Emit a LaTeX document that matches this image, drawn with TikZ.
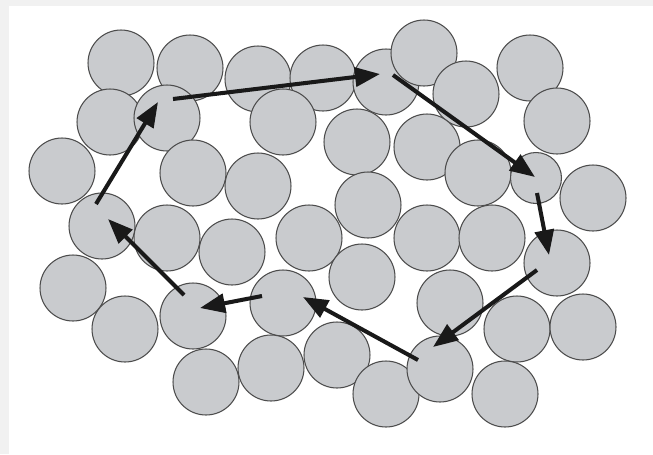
\documentclass[tikz,border=0pt]{standalone}
\usepackage{tikz}
\usetikzlibrary{arrows.meta, positioning}
\definecolor{graingray}{HTML}{C9CBCE}
\definecolor{framegray}{HTML}{F1F1F1}
\tikzset{
	grainnode/.style={
			circle,
			draw=black!70,
			line width=0.6pt,
			fill=graingray,
			minimum size=1.32cm,
			inner sep=0pt
		},
	smallgrainnode/.style={
			grainnode,
			minimum size=1.02cm
		},
	hopline/.style={
			-{Triangle[length=0.5cm,width=0.38cm]},
			line width=2.3pt,
			draw=black!90
		}
}

\begin{document}
\begin{tikzpicture}[x=0.02cm, y=-0.02cm]
				\useasboundingbox (0,0) rectangle (653,454);
				\fill[white] (0,0) rectangle (653,454);
				\fill[framegray] (0,0) rectangle (653,6);
				\fill[framegray] (0,0) rectangle (9,454);

				% grains
				\node[grainnode] at (121,63) (g1) {};
				\node[grainnode] at (190,68) (g2) {};
				\node[grainnode] at (258,79) (g3) {};
				\node[grainnode] at (323,78) (g4) {};
				\node[grainnode] at (386,82) (g5) {};
				\node[grainnode] at (424,53) (g6) {};
				\node[grainnode] at (466,94) (g7) {};
				\node[grainnode] at (530,68) (g8) {};
				\node[grainnode] at (557,121) (g9) {};
				\node[grainnode] at (110,122) (g10) {};
				\node[grainnode] at (283,122) (g12) {};
				\node[grainnode] at (167,118) (g11) {};
				\node[grainnode] at (357,142) (g13) {};
				\node[grainnode] at (427,147) (g14) {};
				\node[grainnode] at (478,173) (g15) {};
				\node[smallgrainnode] at (536,178) (g16) {};
				\node[grainnode] at (593,198) (g17) {};
				\node[grainnode] at (62,171) (g18) {};
				\node[grainnode] at (193,173) (g19) {};
				\node[grainnode] at (258,186) (g20) {};
				\node[grainnode] at (368,205) (g21) {};
				\node[grainnode] at (102,226) (g22) {};
				\node[grainnode] at (167,238) (g23) {};
				\node[grainnode] at (232,252) (g24) {};
				\node[grainnode] at (309,238) (g25) {};
				\node[grainnode] at (427,238) (g26) {};
				\node[grainnode] at (492,238) (g27) {};
				\node[grainnode] at (557,263) (g28) {};
				\node[grainnode] at (73,288) (g29) {};
				\node[grainnode] at (125,329) (g30) {};
				\node[grainnode] at (193,316) (g31) {};
				\node[grainnode] at (283,303) (g32) {};
				\node[grainnode] at (362,277) (g33) {};
				\node[grainnode] at (450,303) (g34) {};
				\node[grainnode] at (517,329) (g36) {};
				\node[grainnode] at (583,327) (g37) {};
				\node[grainnode] at (206,382) (g41) {};
				\node[grainnode] at (271,368) (g42) {};
				\node[grainnode] at (337,355) (g35) {};
				\node[grainnode] at (386,394) (g39) {};
				\node[grainnode] at (440,369) (g38) {};
				\node[grainnode] at (505,394) (g40) {};

				% path of the walk
				\coordinate (t1) at (96,204);   \coordinate (h1) at (158,102);
				\coordinate (t2) at (173,99);   \coordinate (h2) at (380,74);
				\coordinate (t3) at (393,75);   \coordinate (h3) at (535,177);
				\coordinate (t4) at (537,193);  \coordinate (h4) at (549,255);
				\coordinate (t5) at (537,270);  \coordinate (h5) at (433,347);
				\coordinate (t6) at (418,360);  \coordinate (h6) at (303,297);
				\coordinate (t7) at (262,296);  \coordinate (h7) at (200,308);
				\coordinate (t8) at (184,295);  \coordinate (h8) at (108,219);

				\draw[hopline] (t1) -- (h1);
				\draw[hopline] (t2) -- (h2);
				\draw[hopline] (t3) -- (h3);
				\draw[hopline] (t4) -- (h4);
				\draw[hopline] (t5) -- (h5);
				\draw[hopline] (t6) -- (h6);
				\draw[hopline] (t7) -- (h7);
				\draw[hopline] (t8) -- (h8);
			\end{tikzpicture}
\end{document}
